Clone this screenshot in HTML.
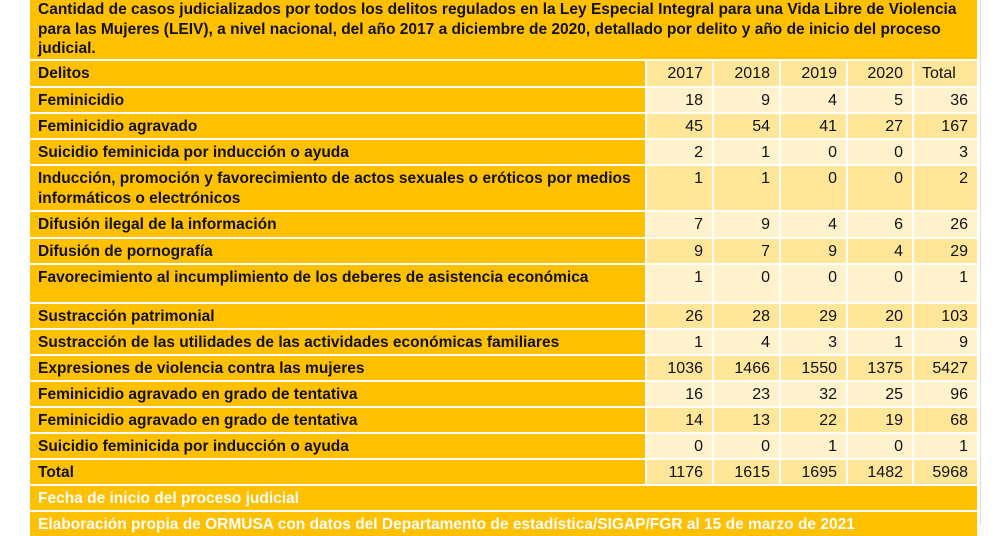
<!DOCTYPE html>
<html><head><meta charset="utf-8"><style>
body{margin:0;width:998px;height:525px;background:#fff;position:relative;overflow:hidden;font-family:"Liberation Sans",sans-serif;color:#111;}
.t{position:absolute;left:30px;top:0;width:947px;height:59px;background:#FFC000;font-weight:bold;font-size:15.5px;line-height:19.5px;padding:0 4px 0 8px;box-sizing:border-box}
.r{position:absolute;left:30px;width:947px;display:grid;grid-template-columns:615px 65px 65px 65px 64px 63px;column-gap:2px;}
.r div{box-sizing:border-box;font-size:16px;line-height:20px;padding-top:3px}
.r div:first-child{background:#FFC000;font-weight:bold;font-size:15.5px;padding-left:8px}
.r div:not(:first-child){text-align:right;padding-right:9px}
.a div:not(:first-child){background:#FFE699}
.b div:not(:first-child){background:#FFF2CC}
.h div:last-child{text-align:left;padding-left:8px}
.f{position:absolute;left:30px;width:947px;background:#FFC000;color:#fff;font-weight:bold;font-size:15.5px;padding:3px 0 0 8px;box-sizing:border-box;line-height:20px}
.g{position:absolute;left:980px;top:0;width:1px;height:525px;background:#ddd}
</style></head><body>
<div class="g"></div>
<div class="t">Cantidad de casos judicializados por todos los delitos regulados en la Ley Especial Integral para una Vida Libre de Violencia para las Mujeres (LEIV), a nivel nacional, del año 2017 a diciembre de 2020, detallado por delito y año de inicio del proceso judicial.</div>
<div class="r a h" style="top:61px;height:25px"><div>Delitos</div><div>2017</div><div>2018</div><div>2019</div><div>2020</div><div>Total</div></div>
<div class="r b" style="top:88px;height:24px"><div>Feminicidio</div><div>18</div><div>9</div><div>4</div><div>5</div><div>36</div></div>
<div class="r a" style="top:114px;height:24px"><div>Feminicidio agravado</div><div>45</div><div>54</div><div>41</div><div>27</div><div>167</div></div>
<div class="r b" style="top:140px;height:24px"><div>Suicidio feminicida por inducción o ayuda</div><div>2</div><div>1</div><div>0</div><div>0</div><div>3</div></div>
<div class="r a" style="top:166px;height:44px"><div>Inducción, promoción y favorecimiento de actos sexuales o eróticos por medios informáticos o electrónicos</div><div>1</div><div>1</div><div>0</div><div>0</div><div>2</div></div>
<div class="r b" style="top:212px;height:25px"><div>Difusión ilegal de la información</div><div>7</div><div>9</div><div>4</div><div>6</div><div>26</div></div>
<div class="r a" style="top:239px;height:24px"><div>Difusión de pornografía</div><div>9</div><div>7</div><div>9</div><div>4</div><div>29</div></div>
<div class="r b" style="top:265px;height:37px"><div>Favorecimiento al incumplimiento de los deberes de asistencia económica</div><div>1</div><div>0</div><div>0</div><div>0</div><div>1</div></div>
<div class="r a" style="top:304px;height:24px"><div>Sustracción patrimonial</div><div>26</div><div>28</div><div>29</div><div>20</div><div>103</div></div>
<div class="r b" style="top:330px;height:24px"><div>Sustracción de las utilidades de las actividades económicas familiares</div><div>1</div><div>4</div><div>3</div><div>1</div><div>9</div></div>
<div class="r a" style="top:356px;height:24px"><div>Expresiones de violencia contra las mujeres</div><div>1036</div><div>1466</div><div>1550</div><div>1375</div><div>5427</div></div>
<div class="r b" style="top:382px;height:24px"><div>Feminicidio agravado en grado de tentativa</div><div>16</div><div>23</div><div>32</div><div>25</div><div>96</div></div>
<div class="r a" style="top:408px;height:24px"><div>Feminicidio agravado en grado de tentativa</div><div>14</div><div>13</div><div>22</div><div>19</div><div>68</div></div>
<div class="r b" style="top:434px;height:24px"><div>Suicidio feminicida por inducción o ayuda</div><div>0</div><div>0</div><div>1</div><div>0</div><div>1</div></div>
<div class="r a" style="top:460px;height:24px"><div>Total</div><div>1176</div><div>1615</div><div>1695</div><div>1482</div><div>5968</div></div>
<div class="f" style="top:486px;height:24px">Fecha de inicio del proceso judicial</div>
<div class="f" style="top:512px;height:24px">Elaboración propia de ORMUSA con datos del Departamento de estadística/SIGAP/FGR al 15 de marzo de 2021</div>
</body></html>
